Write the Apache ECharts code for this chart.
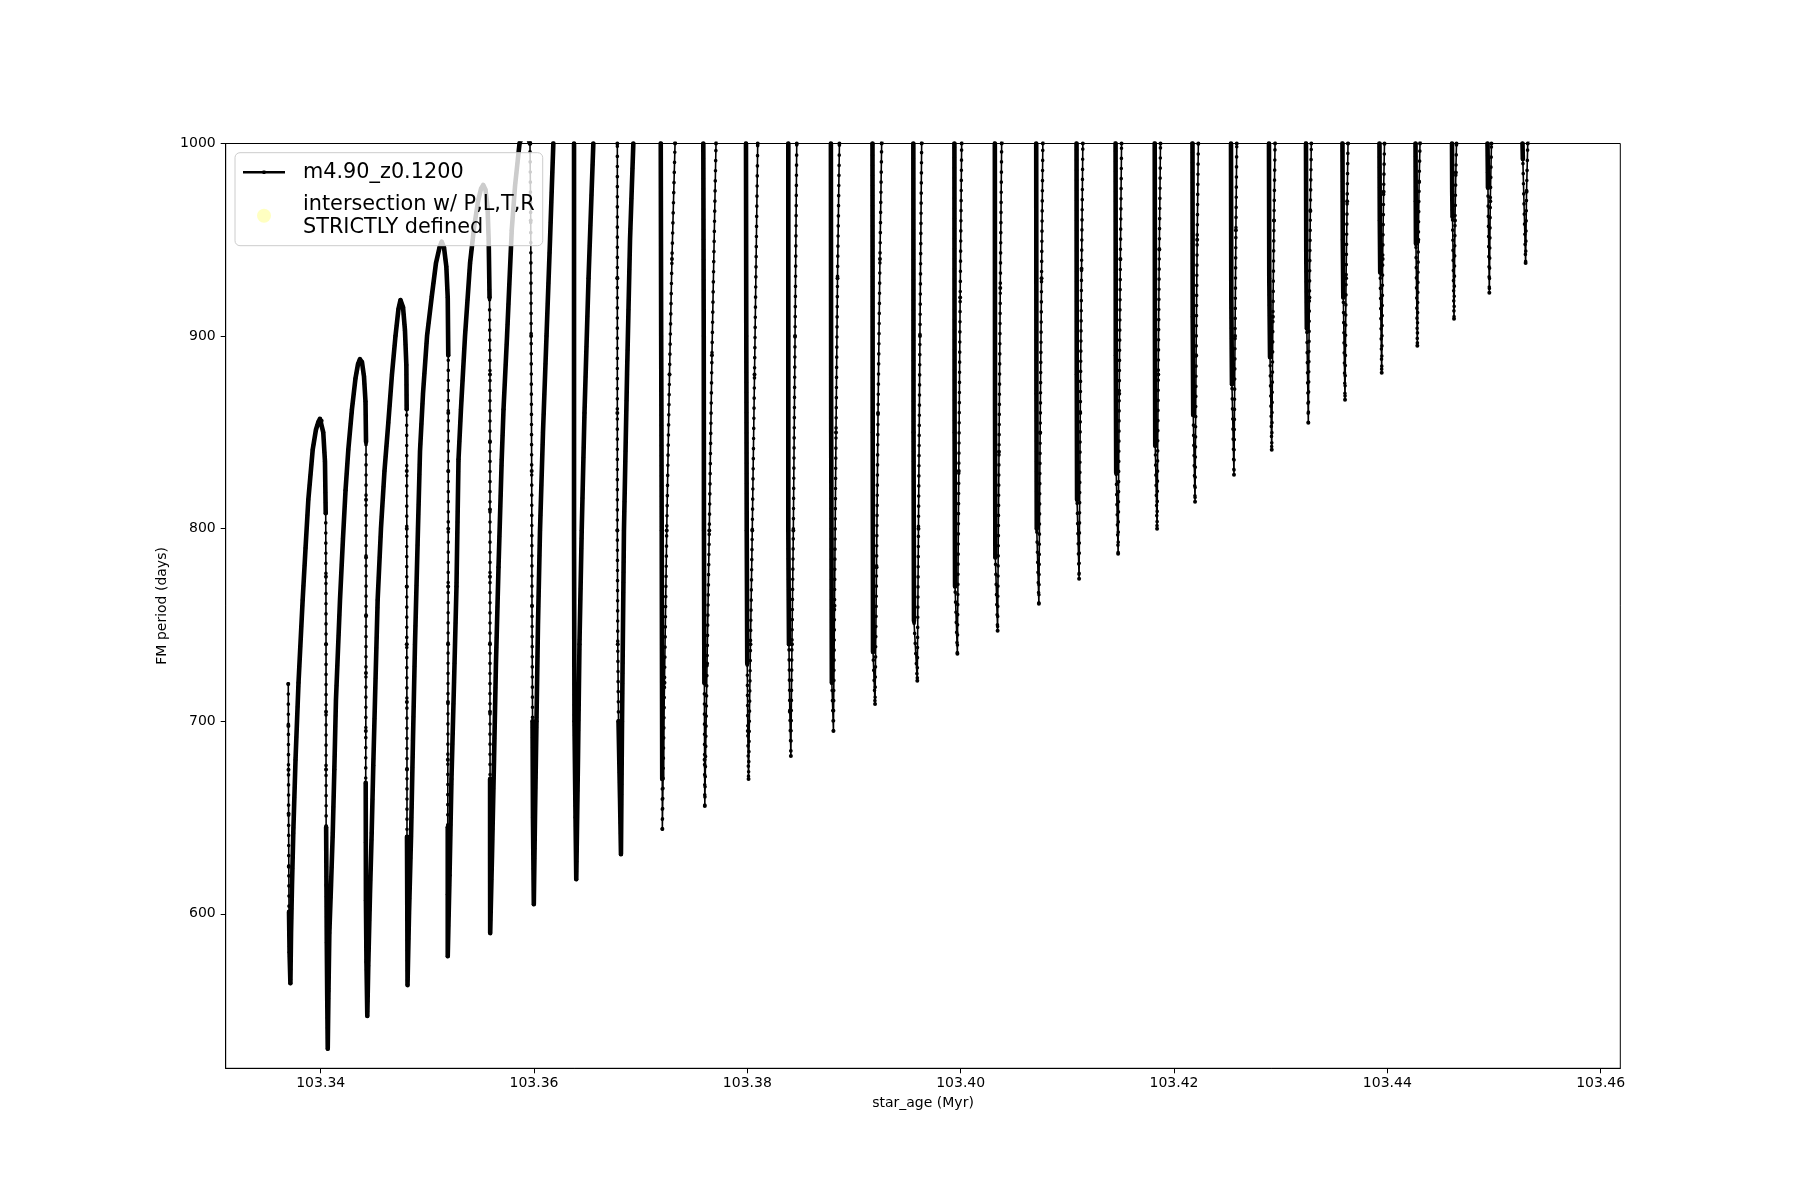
<!DOCTYPE html>
<html>
<head>
<meta charset="utf-8">
<script src="https://cdn.jsdelivr.net/npm/echarts@6/dist/echarts.min.js"></script>
<style>
html,body{margin:0;padding:0;background:#ffffff;}
#chart{width:1800px;height:1200px;}
</style>
</head>
<body>
<div id="chart"></div>
<script>
// ---------------- data ----------------
const seriesName = 'm4.90_z0.1200';
const markerName = 'intersection w/ P,L,T,R\nSTRICTLY defined';
const xTickValues = [103.34, 103.36, 103.38, 103.40, 103.42, 103.44, 103.46];
const yTickValues = [600, 700, 800, 900, 1000];

// track part 1: start + arch cycles 1-6
const agesArch = [
 103.33696,103.33697,103.33698,103.33699,103.33701,103.33703,103.33708,103.33716,103.33722,103.33731,
 103.33743,103.33764,103.33792,103.33831,103.33858,103.33884,103.33925,103.33956,103.33979,103.33993,
 103.34009,103.34024,103.34040,103.34047,103.34049,103.34050,103.34050,103.34050,103.34051,103.34054,
 103.34057,103.34061,103.34066,103.34073,103.34081,103.34097,103.34113,103.34128,103.34143,103.34162,
 103.34181,103.34209,103.34233,103.34259,103.34293,103.34326,103.34350,103.34368,103.34387,103.34406,
 103.34420,103.34425,103.34425,103.34425,103.34425,103.34424,103.34423,103.34422,103.34423,103.34424,
 103.34429,103.34437,103.34446,103.34462,103.34478,103.34493,103.34509,103.34534,103.34565,103.34598,
 103.34634,103.34668,103.34701,103.34729,103.34748,103.34772,103.34790,103.34803,103.34806,103.34807,
 103.34807,103.34807,103.34807,103.34808,103.34809,103.34809,103.34812,103.34814,103.34828,103.34847,
 103.34865,103.34884,103.34912,103.34931,103.34959,103.34997,103.35041,103.35081,103.35114,103.35134,
 103.35156,103.35178,103.35191,103.35196,103.35196,103.35196,103.35196,103.35195,103.35194,103.35193,
 103.35192,103.35191,103.35191,103.35191,103.35208,103.35226,103.35250,103.35273,103.35292,103.35315,
 103.35353,103.35400,103.35437,103.35475,103.35503,103.35524,103.35545,103.35564,103.35575,103.35583,
 103.35587,103.35587,103.35587,103.35587,103.35587,103.35587,103.35588,103.35588,103.35589,103.35606,
 103.35625,103.35643,103.35667,103.35697,103.35714,103.35747,103.35791,103.35822,103.35864,103.35915,
 103.35962
];
const periodsArch = [
 719.4,697.6,674.8,652,624.5,601,580,564,590,615,
 642,680,720,763,790,815,841,851.5,855.5,857,
 856,850,835,808,775,740,705,675,645,615,
 585,558,530,560,590,615,642,675,711,737,
 763,795,820,841,862,878,885.5,888,886.5,879,
 866,845,815,785,755,725,695,668,637,607,
 575,547,573,610,642,677,711,763,800,830,
 855,880,900,914,918.7,915,903,885,862,830,
 800,770,740,710,675,640,600,563,600,640,
 690,740,800,840,870,900,920.5,938,946,949,
 946,936,920,890,860,830,800,770,740,710,
 680,645,610,578,620,670,720,770,836,862,
 900,937.8,956,970,976.5,978.5,976,967,950,920,
 880,845,810,775,740,705,670,630,590,630,
 680,730,780,836,862,900,955,978,1000,1008,
 1000
];
const denseArch = [
 0,0,0,0,0,1,1,1,1,1,
 1,1,1,1,1,1,1,1,1,1,
 1,1,1,0,0,0,0,0,1,1,
 1,1,1,1,1,1,1,1,1,1,
 1,1,1,1,1,1,1,1,1,1,
 1,0,0,0,0,0,0,1,1,1,
 1,1,1,1,1,1,1,1,1,1,
 1,1,1,1,1,1,1,1,0,0,
 0,0,0,0,0,1,1,1,1,1,
 1,1,1,1,1,1,1,1,1,1,
 1,1,1,0,0,0,0,0,0,0,
 0,1,1,1,1,1,1,1,1,1,
 1,1,1,1,1,1,1,1,1,0,
 0,0,0,0,0,0,1,1,1,1,
 1,1,1,1,1,1,1,1,1,1,
 0
];

// track part 2: cycles 7-16
const agesMid = [
 103.35969,103.35973,103.35978,103.35981,103.35986,103.35990,103.35998,103.36009,103.36023,103.36037,
 103.36056,103.36084,103.36117,103.36150,103.36181,103.36281,103.36375,103.36375,103.36375,103.36379,
 103.36389,103.36396,103.36412,103.36426,103.36447,103.36473,103.36511,103.36556,103.36665,103.36781,
 103.36781,103.36781,103.36781,103.36785,103.36792,103.36806,103.36815,103.36825,103.36843,103.36872,
 103.36900,103.36931,103.37059,103.37188,103.37192,103.37197,103.37200,103.37202,103.37203,103.37223,
 103.37244,103.37270,103.37293,103.37322,103.37453,103.37587,103.37591,103.37593,103.37597,103.37599,
 103.37601,103.37622,103.37643,103.37668,103.37706,103.37847,103.37987,103.37990,103.37994,103.37999,
 103.38004,103.38011,103.38029,103.38046,103.38067,103.38097,103.38240,103.38384,103.38384,103.38384,
 103.38390,103.38398,103.38408,103.38418,103.38431,103.38447,103.38463,103.38625,103.38783,103.38786,
 103.38792,103.38807,103.38817,103.38831,103.38845,103.38863,103.39018,103.39173,103.39175,103.39178,
 103.39197,103.39211,103.39225,103.39243,103.39259,103.39408,103.39556,103.39558,103.39562,103.39593,
 103.39604,103.39618,103.39634,103.39787
];
const periodsMid = [
 960,900,830,760,700,650,605,650,700,750,
 799,850,900,950,1000,1080,1000,900,799,700,
 650,618,680,740,799,860,930,1000,1080,1000,
 930,860,799,740,700,660,631,700,799,880,
 950,1000,1080,1000,900,799,720,670,644,720,
 799,880,940,1000,1080,1000,900,799,720,680,
 656,730,799,890,1000,1080,1000,900,799,730,
 695,670,740,799,880,1000,1080,1000,900,799,
 740,705,682,740,799,900,1000,1080,1000,850,
 720,695,760,850,930,1000,1080,1000,850,736,
 709,780,860,940,1000,1080,1000,850,752,721,
 800,900,1000,1080
];
const denseMid = [
 0,0,0,0,1,1,1,1,1,1,
 1,1,1,1,0,0,1,1,1,1,
 1,1,1,1,1,1,1,0,0,0,
 0,0,0,0,1,1,1,1,1,1,
 1,0,0,1,1,1,1,0,0,0,
 0,0,0,0,0,1,1,1,0,0,
 0,0,0,0,0,0,1,1,1,0,
 0,0,0,0,0,0,0,1,1,1,
 0,0,0,0,0,0,0,0,1,1,
 0,0,0,0,0,0,0,1,1,0,
 0,0,0,0,0,0,1,1,0,0,
 0,0,0,0
];

// track part 3: cycles 17-32
const agesLate = [
 103.39941,103.39943,103.39947,103.39969,103.39982,103.39995,103.40009,103.40162,
 103.40320,103.40322,103.40325,103.40346,103.40359,103.40371,103.40384,103.40547,
 103.40708,103.40710,103.40713,103.40733,103.40745,103.40758,103.40770,103.40926,
 103.41086,103.41088,103.41091,103.41110,103.41121,103.41133,103.41145,103.41301,
 103.41452,103.41454,103.41458,103.41476,103.41486,103.41497,103.41508,103.41662,
 103.41819,103.41821,103.41824,103.41841,103.41852,103.41862,103.41873,103.42023,
 103.42173,103.42175,103.42180,103.42197,103.42207,103.42217,103.42228,103.42379,
 103.42534,103.42537,103.42543,103.42562,103.42572,103.42580,103.42588,103.42740,
 103.42890,103.42893,103.42900,103.42916,103.42927,103.42937,103.42947,103.43092,
 103.43237,103.43240,103.43245,103.43259,103.43269,103.43278,103.43287,103.43434,
 103.43579,103.43582,103.43587,103.43603,103.43613,103.43623,103.43631,103.43776,
 103.43926,103.43929,103.43933,103.43947,103.43956,103.43965,103.43973,103.44118,
 103.44264,103.44266,103.44268,103.44281,103.44290,103.44298,103.44306,103.44456,
 103.44606,103.44608,103.44611,103.44625,103.44634,103.44642,103.44648,103.44793,
 103.44939,103.44942,103.44943,103.44956,103.44965,103.44976,103.45122,
 103.45267,103.45270,103.45296,103.45305,103.45316,103.45589
];
const periodsLate = [
 1000,850,770,735,830,920,1000,1080,
 1000,860,785,747,840,925,1000,1080,
 1000,870,800,761,850,930,1000,1080,
 1000,880,815,774,860,935,1000,1080,
 1000,890,829,787,870,940,1000,1080,
 1000,900,843,800,880,945,1000,1080,
 1000,910,859,814,890,950,1000,1080,
 1000,920,875,828,900,955,1000,1080,
 1000,930,889,841,910,960,1000,1080,
 1000,940,904,855,920,965,1000,1080,
 1000,950,920,867,930,970,1000,1080,
 1000,960,933,881,940,975,1000,1080,
 1000,970,948,895,950,980,1000,1080,
 1000,975,962,909,960,985,1000,1080,
 1000,985,977,922.5,970,1000,1080,
 1000,992,938,975,1000,1050
];
const denseLate = [
 1,1,0,0,0,0,0,0,
 1,1,0,0,0,0,0,0,
 1,1,0,0,0,0,0,0,
 1,1,0,0,0,0,0,0,
 1,1,0,0,0,0,0,0,
 1,1,0,0,0,0,0,0,
 1,1,0,0,0,0,0,0,
 1,1,0,0,0,0,0,0,
 1,1,0,0,0,0,0,0,
 1,1,0,0,0,0,0,0,
 1,1,0,0,0,0,0,0,
 1,1,0,0,0,0,0,0,
 1,1,0,0,0,0,0,0,
 1,1,0,0,0,0,0,0,
 1,1,0,0,0,0,0,
 1,0,0,0,0,0
];

// ---------------- build ----------------
const starAge = agesArch.concat(agesMid, agesLate);
const fmPeriod = periodsArch.concat(periodsMid, periodsLate);
const dense = denseArch.concat(denseMid, denseLate);

const track = starAge.map((a, i) => [a, fmPeriod[i]]);
const denseTrack = starAge.map((a, i) => {
  const on = dense[i] === 1 || (i > 0 && dense[i - 1] === 1);
  return on ? [a, fmPeriod[i]] : [a, '-'];
});

const font = 'DejaVu Sans';
const chart = echarts.init(document.getElementById('chart'), null, {renderer: 'canvas'});
chart.setOption({
  animation: false,
  backgroundColor: '#ffffff',
  grid: {left: 225.7, right: 179.7, top: 143.5, bottom: 131.7, show: true,
         borderColor: '#000', borderWidth: 1, backgroundColor: 'transparent'},
  xAxis: {
    type: 'value', min: 103.331094, max: 103.461838,
    name: 'star_age (Myr)', nameLocation: 'middle', nameGap: 28,
    nameTextStyle: {fontFamily: font, fontSize: 14, color: '#000'},
    axisLine: {show: true, onZero: false, lineStyle: {color: '#000', width: 1}},
    axisTick: {show: true, inside: false, length: 5, customValues: xTickValues, lineStyle: {color: '#000'}},
    axisLabel: {show: true, margin: 8, customValues: xTickValues, fontFamily: font, fontSize: 14, color: '#000',
                formatter: v => v.toFixed(2)},
    splitLine: {show: false}
  },
  yAxis: {
    type: 'value', min: 519.8, max: 1000,
    name: 'FM period (days)', nameLocation: 'middle', nameGap: 47.5, nameRotate: 90,
    nameTextStyle: {fontFamily: font, fontSize: 14, color: '#000'},
    axisLine: {show: true, onZero: false, lineStyle: {color: '#000', width: 1}},
    axisTick: {show: true, inside: false, length: 5, customValues: yTickValues, lineStyle: {color: '#000'}},
    axisLabel: {show: true, margin: 10, customValues: yTickValues, fontFamily: font, fontSize: 14, color: '#000',
                formatter: v => String(Math.round(v))},
    splitLine: {show: false}
  },
  legend: {
    z: 20, zlevel: 0,
    orient: 'vertical', left: 235, top: 152.7,
    padding: [8, 8, 7, 8], itemGap: 9, itemWidth: 42, itemHeight: 14,
    backgroundColor: 'rgba(255,255,255,0.8)', borderColor: '#cccccc', borderWidth: 1, borderRadius: 5,
    textStyle: {fontFamily: font, fontSize: 20.8, color: '#000', lineHeight: 23, padding: [0, 0, 0, 13]},
    data: [
      {name: seriesName, icon: 'path://M0,5.7H42V8.3H0Z M19.6,5.2H22.4V8.8H19.6Z'},
      {name: markerName, icon: 'circle'}
    ]
  },
  series: [
    {
      name: seriesName, type: 'line', data: track, clip: true,
      showSymbol: true, symbol: 'circle', symbolSize: 4,
      itemStyle: {color: '#000'}, lineStyle: {color: '#000', width: 1.6},
      z: 2, silent: true
    },
    {
      name: 'dense sampling', type: 'line', data: denseTrack, clip: true,
      showSymbol: false, connectNulls: false,
      lineStyle: {color: '#000', width: 4.6, cap: 'round', join: 'round'},
      z: 3, silent: true
    },
    {
      name: 'sample markers', type: 'line', data: track, clip: true,
      showSymbol: false,
      lineStyle: {color: '#000', width: 3.6, type: [0.1, 10], cap: 'round'},
      z: 3, silent: true
    },
    {
      name: markerName, type: 'scatter', data: [],
      symbolSize: 14, itemStyle: {color: '#ffffb2'}
    }
  ]
});
</script>
</body>
</html>
